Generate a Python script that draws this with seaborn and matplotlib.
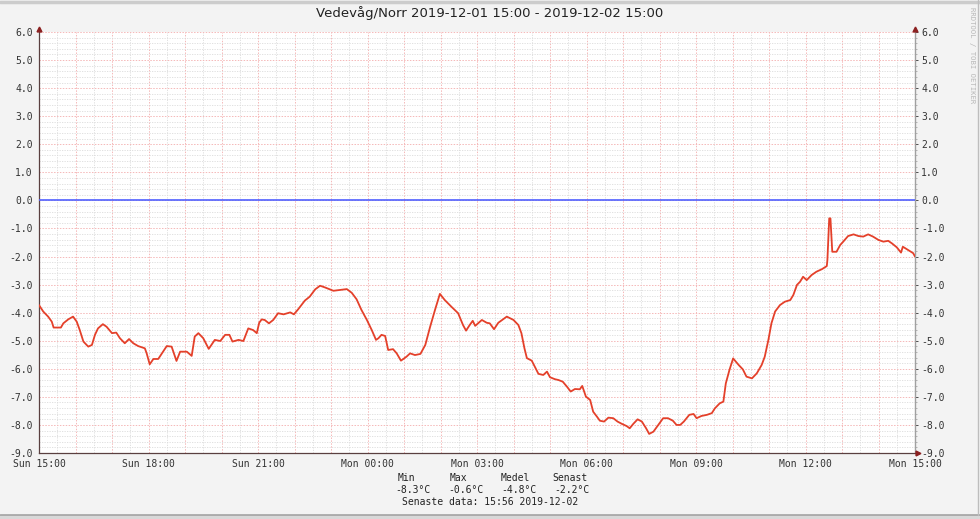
import numpy as np
import pandas as pd
import matplotlib
matplotlib.use("Agg")
import matplotlib.pyplot as plt
import seaborn as sns
from matplotlib.lines import Line2D
from matplotlib.ticker import MultipleLocator

# temperature Vedevåg/Norr, minutes after 2019-12-01 15:00
minutes = [0, 7, 15, 21, 24, 36, 40, 48, 56, 62, 67, 73, 81, 87, 92, 97, 105, 111, 120, 127,
           133, 141, 148, 155, 163, 174, 177, 182, 188, 196, 204, 210, 218, 226, 232, 243, 251, 256, 262, 270,
           279, 284, 289, 298, 306, 313, 318, 328, 336, 344, 352, 358, 362, 366, 371, 378, 385, 393, 402, 413,
           419, 426, 437, 445, 454, 462, 470, 484, 495, 506, 514, 522, 530, 539, 547, 554, 558, 563, 569, 574,
           582, 588, 595, 604, 610, 618, 627, 635, 643, 651, 659, 667, 678, 689, 697, 702, 708, 713, 717, 728,
           736, 741, 748, 755, 769, 780, 788, 793, 798, 802, 810, 815, 821, 829, 835, 840, 848, 854, 861, 868,
           874, 881, 889, 893, 899, 906, 911, 917, 922, 929, 936, 944, 951, 958, 966, 971, 977, 984, 991, 998,
           1003, 1010, 1018, 1026, 1034, 1042, 1048, 1054, 1060, 1069, 1076, 1081, 1089, 1098, 1106, 1111, 1119, 1125, 1129, 1135,
           1141, 1150, 1157, 1163, 1172, 1180, 1188, 1193, 1199, 1204, 1210, 1218, 1226, 1235, 1240, 1246, 1251, 1256, 1262, 1270,
           1278, 1287, 1295, 1296, 1299, 1301, 1304, 1311, 1317, 1322, 1330, 1339, 1347, 1355, 1363, 1371, 1380, 1388, 1396, 1402,
           1410, 1417, 1420, 1429, 1437, 1440]
temps = [-3.73, -3.96, -4.14, -4.32, -4.53, -4.53, -4.38, -4.24, -4.14, -4.32, -4.62, -5.03, -5.21, -5.15, -4.79, -4.56, -4.41, -4.50, -4.73, -4.71,
         -4.91, -5.09, -4.94, -5.09, -5.19, -5.27, -5.45, -5.84, -5.65, -5.65, -5.39, -5.19, -5.21, -5.72, -5.39, -5.39, -5.54, -4.85, -4.73, -4.91,
         -5.29, -5.13, -4.97, -5.01, -4.79, -4.79, -5.03, -4.97, -5.01, -4.56, -4.62, -4.73, -4.36, -4.24, -4.26, -4.38, -4.26, -4.02, -4.06, -3.99,
         -4.06, -3.88, -3.57, -3.43, -3.17, -3.04, -3.10, -3.22, -3.19, -3.16, -3.29, -3.52, -3.90, -4.26, -4.62, -4.97, -4.91, -4.79, -4.83, -5.33,
         -5.30, -5.45, -5.71, -5.57, -5.45, -5.51, -5.47, -5.15, -4.50, -3.90, -3.33, -3.55, -3.79, -4.02, -4.44, -4.64, -4.44, -4.29, -4.47, -4.26,
         -4.36, -4.38, -4.59, -4.36, -4.14, -4.26, -4.44, -4.73, -5.27, -5.62, -5.71, -5.92, -6.18, -6.22, -6.10, -6.30, -6.37, -6.40, -6.46, -6.64,
         -6.81, -6.72, -6.73, -6.61, -6.99, -7.11, -7.53, -7.70, -7.85, -7.88, -7.74, -7.76, -7.88, -7.96, -8.04, -8.12, -7.96, -7.80, -7.88, -8.12,
         -8.32, -8.24, -8.00, -7.76, -7.76, -7.85, -8.00, -8.00, -7.88, -7.64, -7.61, -7.76, -7.68, -7.64, -7.58, -7.41, -7.23, -7.17, -6.52, -6.04,
         -5.63, -5.86, -6.02, -6.28, -6.34, -6.16, -5.86, -5.57, -4.97, -4.38, -3.96, -3.73, -3.61, -3.55, -3.37, -3.01, -2.90, -2.72, -2.84, -2.66,
         -2.54, -2.45, -2.34, -2.12, -0.64, -0.64, -1.83, -1.83, -1.59, -1.47, -1.27, -1.21, -1.27, -1.29, -1.21, -1.29, -1.41, -1.47, -1.44, -1.53,
         -1.67, -1.86, -1.65, -1.77, -1.88, -2.00]

hour_ticks = list(range(0, 25))
hour_labels = ["Sun 15:00", "Sun 18:00", "Sun 21:00", "Mon 00:00", "Mon 03:00",
               "Mon 06:00", "Mon 09:00", "Mon 12:00", "Mon 15:00"]
y_ticks = [6, 5, 4, 3, 2, 1, 0, -1, -2, -3, -4, -5, -6, -7, -8, -9]

stat_names = ["Min", "Max", "Medel", "Senast"]
stat_values = ["-8.3°C", "-0.6°C", "-4.8°C", "-2.2°C"]
footer = "Senaste data: 15:56 2019-12-02"
title = "Vedevåg/Norr 2019-12-01 15:00 - 2019-12-02 15:00"

df = pd.DataFrame({"hours": np.array(minutes) / 60.0, "temp": temps})

sns.set_style("white")
plt.rcParams["font.family"] = ["DejaVu Sans Mono"]

fig = plt.figure(figsize=(9.8, 5.19), dpi=100, facecolor="#f3f3f3")
ax = fig.add_axes([39 / 980, 1 - 453 / 519, 876 / 980, 421 / 519])
ax.set_facecolor("white")

# grid
ax.xaxis.set_major_locator(MultipleLocator(1))
ax.xaxis.set_minor_locator(MultipleLocator(0.5))
ax.yaxis.set_major_locator(MultipleLocator(1))
ax.yaxis.set_minor_locator(MultipleLocator(0.2))
ax.grid(which="minor", color="#dcdcdc", linestyle=(0, (1.5, 1.5)), linewidth=0.6)
ax.grid(which="major", color="#f5b8b8", linestyle=(0, (1.5, 1.5)), linewidth=0.7)
ax.set_axisbelow(True)

ax.axhline(0, color="#5060ff", linewidth=1.2, zorder=3)
sns.lineplot(data=df, x="hours", y="temp", ax=ax, color="#e4402a", linewidth=1.3, zorder=4)

ax.set_xlim(0, 24)
ax.set_ylim(-9, 6)
ax.set_xticks(hour_ticks)
ax.set_xticklabels([hour_labels[h // 3] if h % 3 == 0 else "" for h in hour_ticks])
ax.set_yticks(y_ticks)
ax.set_yticklabels([f"{v:.1f}" for v in y_ticks])
ax.set_xlabel("")
ax.set_ylabel("")

ax.tick_params(axis="both", which="major", labelsize=7, colors="#333333", length=2.5, width=0.6, pad=2)
ax.tick_params(axis="both", which="minor", length=1.5, width=0.5, colors="#999999")
ax.tick_params(axis="y", labelright=True, right=True, which="both")
ax.tick_params(axis="x", which="minor", bottom=False)

for s in ["left", "bottom"]:
    ax.spines[s].set_color("#5a4040")
    ax.spines[s].set_linewidth(0.9)
ax.spines["right"].set_color("#a0a0a0")
ax.spines["right"].set_linewidth(1.0)
ax.spines["top"].set_visible(False)

# axis arrow heads
ax.plot([0, 1], [1.008, 1.008], linestyle="none", marker="^", markersize=3.5,
        color="#8b2020", transform=ax.transAxes, clip_on=False, zorder=6)
ax.plot([1.003], [0], linestyle="none", marker=">", markersize=3.5,
        color="#8b2020", transform=ax.transAxes, clip_on=False, zorder=6)

fig.text(0.5, 1 - 13 / 519, title, ha="center", va="center", fontsize=9.5,
         family="DejaVu Sans", color="#222222")

name_x = [406, 458, 515, 570]
value_x = [413, 466, 519, 572]
for name, nx in zip(stat_names, name_x):
    fig.text(nx / 980, 1 - 478 / 519, name, ha="center", va="center", fontsize=7, color="#222222")
for val, vx in zip(stat_values, value_x):
    fig.text(vx / 980, 1 - 490 / 519, val, ha="center", va="center", fontsize=7, color="#222222")
fig.text(490 / 980, 1 - 502 / 519, footer, ha="center", va="center", fontsize=7, color="#222222")

fig.text(972 / 980, 1 - 55 / 519, "RRDTOOL / TOBI OETIKER", rotation=270, ha="center",
         va="center", fontsize=5.2, color="#b8b8b8")

# frame around the image
fig.add_artist(Line2D([0, 1], [0.997, 0.997], color="#cccccc", linewidth=2.5, transform=fig.transFigure))
fig.add_artist(Line2D([0, 1], [1 - 515 / 519, 1 - 515 / 519], color="#a8a8a8", linewidth=2, transform=fig.transFigure))
fig.add_artist(Line2D([0, 1], [0.002, 0.002], color="#d8d8d8", linewidth=3, transform=fig.transFigure))
fig.add_artist(Line2D([978 / 980, 978 / 980], [1 - 515 / 519, 1], color="#bdbdbd", linewidth=1, transform=fig.transFigure))

fig.savefig("out.png", dpi=100, facecolor=fig.get_facecolor())
